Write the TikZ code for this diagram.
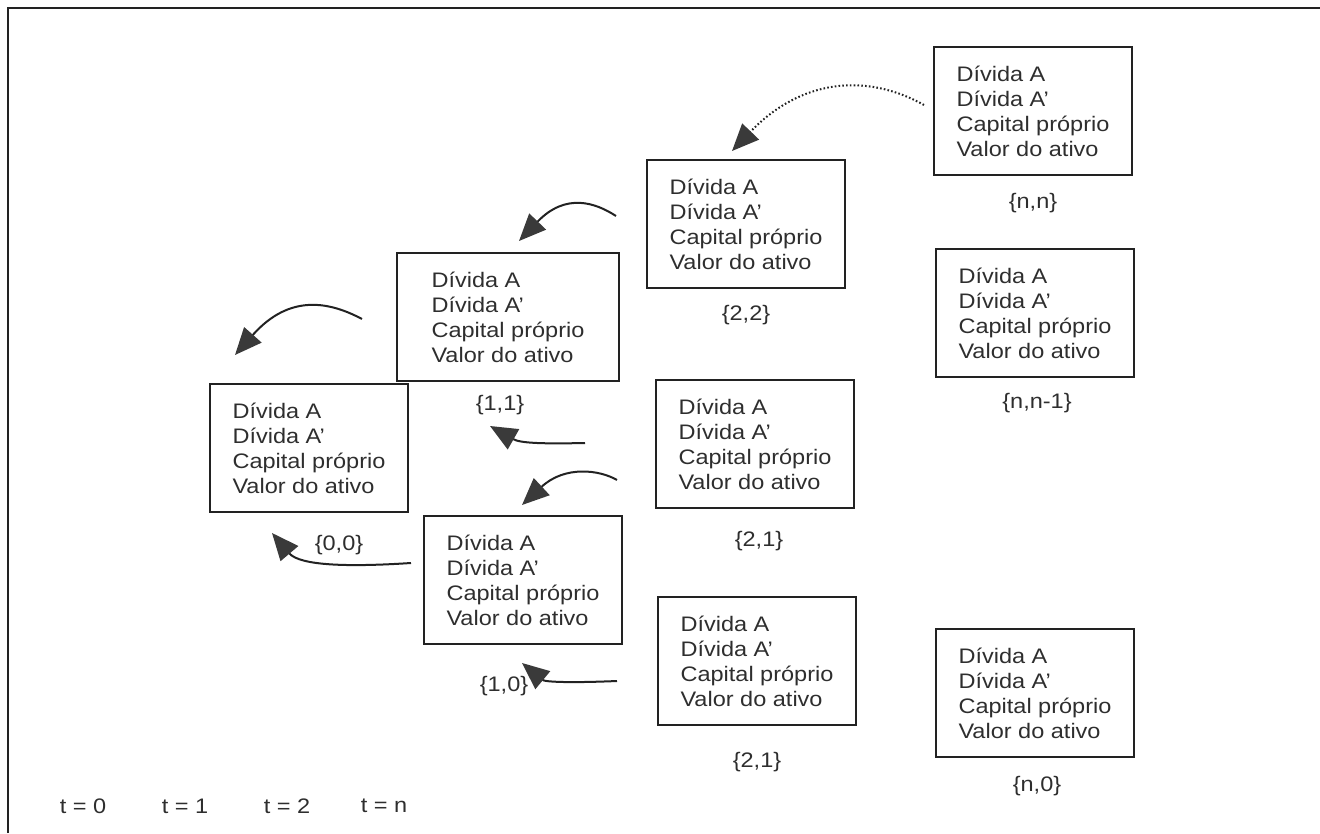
\documentclass[tikz,border=0pt]{standalone}
\usepackage{fontspec}
\newfontfamily\lab{Liberation Sans}[FakeStretch=1.12]
\usetikzlibrary{arrows.meta}
\definecolor{ink}{HTML}{222222}
\definecolor{txt}{HTML}{2E2E2E}
\definecolor{head}{HTML}{3A3A3A}
\tikzset{
  box/.style={draw=ink, line width=2pt, minimum width=198pt, minimum height=128pt,
    align=left, inner sep=0pt, text=txt, font=\lab\fontsize{21}{25}\selectfont},
  lbl/.style={inner sep=0pt, text=txt, font=\lab\fontsize{21}{25}\selectfont},
  arr/.style={draw=ink, line width=2pt, -{Triangle[length=27pt,width=23pt,fill=head,color=head]}},
  dotarr/.style={arr, line width=2pt, dash pattern=on 1.6pt off 2.2pt}
}
\newcommand{\bal}{Dívida A\\Dívida A’\\Capital próprio\\Valor do ativo}
\begin{document}
\begin{tikzpicture}[x=1pt,y=-1pt]
\useasboundingbox (0,0) rectangle (1320,833);
\draw[ink, line width=2pt] (8,833) -- (8,8) -- (1320,8);

% boxes
\node[box, minimum width=198pt] (b00) at (309,448) {\bal};
\node[box, minimum width=222pt] (b11) at (508,317) {\bal};
\node[box] (b10) at (523,580) {\bal};
\node[box] (b22) at (746,224) {\bal};
\node[box] (b21) at (755,444) {\bal};
\node[box] (b21b) at (757,661) {\bal};
\node[box] (bnn) at (1033,111) {\bal};
\node[box] (bnn1) at (1035,313) {\bal};
\node[box] (bn0) at (1035,693) {\bal};

% labels
\node[lbl] (l00) at (339,545) {\{0,0\}};
\node[lbl] (l11) at (500,405) {\{1,1\}};
\node[lbl] (l10) at (504,686) {\{1,0\}};
\node[lbl] (l22) at (746,315) {\{2,2\}};
\node[lbl] (l21) at (759,541) {\{2,1\}};
\node[lbl] (l21b) at (757,762) {\{2,1\}};
\node[lbl] (lnn) at (1033,203) {\{n,n\}};
\node[lbl] (lnn1) at (1037,403) {\{n,n-1\}};
\node[lbl] (ln0) at (1037,786) {\{n,0\}};

\node[lbl] (t0) at (83,806) {t = 0};
\node[lbl] (t1) at (185,806) {t = 1};
\node[lbl] (t2) at (287,806) {t = 2};
\node[lbl] (tn) at (384,806) {t = n};

% arrow end points
\coordinate (s1) at (924,105); \coordinate (e1) at (732,151);
\coordinate (s2) at (616,216); \coordinate (e2) at (519,241);
\coordinate (s3) at (362,319); \coordinate (e3) at (235,355);
\coordinate (s4) at (585,443); \coordinate (e4) at (490,426);
\coordinate (s5) at (617,480); \coordinate (e5) at (522,505);
\coordinate (s6) at (411,563); \coordinate (e6) at (272,533);
\coordinate (s7) at (617,681); \coordinate (e7) at (522,663);

\draw[dotarr] (s1) .. controls (865,72) and (800,80) .. (e1);
\draw[arr] (s2) .. controls (596,203) and (566,192) .. (e2);
\draw[arr] (s3) .. controls (330,302) and (290,293) .. (e3);
\draw[arr] (s4) .. controls (540,444) and (520,443) .. (e4);
\draw[arr] (s5) .. controls (600,470) and (565,465) .. (e5);
\draw[arr] (s6) .. controls (350,567) and (300,566) .. (e6);
\draw[arr] (s7) .. controls (570,683) and (545,682) .. (e7);
\end{tikzpicture}
\end{document}
